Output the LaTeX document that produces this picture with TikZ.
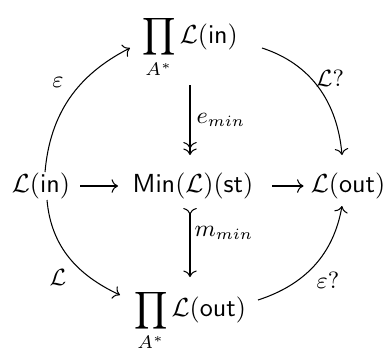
\documentclass[tikz,border=0pt]{standalone}
\usetikzlibrary{arrows.meta,calc}
\begin{document}
\begin{tikzpicture}[x=0.383pt,y=0.383pt,
  obj/.style={inner sep=0pt},
  arr/.style={-{Computer Modern Rightarrow}, line width=0.4pt},
  epi/.style={-{Computer Modern Rightarrow[]Computer Modern Rightarrow}, line width=0.4pt},
  mono/.style={{Computer Modern Rightarrow[reversed]}-{Computer Modern Rightarrow}, line width=0.4pt},
  lbl/.style={inner sep=0pt, font=\small}]
\useasboundingbox (0,0) rectangle (386,350);
\node[obj] (top) at (190,303) {$\displaystyle\prod_{A^*}\mathcal{L}(\mathsf{in})$};
\node[obj] (bot) at (190,30) {$\displaystyle\prod_{A^*}\mathcal{L}(\mathsf{out})$};
\node[obj] (lft) at (41,164) {$\mathcal{L}(\mathsf{in})$};
\node[obj] (mid) at (193,164) {$\mathsf{Min}(\mathcal{L})(\mathsf{st})$};
\node[obj] (rgt) at (348,164) {$\mathcal{L}(\mathsf{out})$};

\draw[arr, shorten <=3.8pt, shorten >=5.4pt] (lft) -- (mid);
\draw[arr, shorten <=7pt, shorten >=2.6pt] (mid) -- (rgt);

\draw[epi] ($(top.center)+(0,-38)$) -- ($(mid.center -| top.center)+(0,31)$);
\draw[mono] ($(mid.center -| top.center)+(0,-22)$) -- ($(bot.center)+(0,43)$);

\draw[arr] ($(lft.center)+(4,14)$) to[out=85,in=207] ($(top.center)+(-60,-1)$);
\draw[arr] ($(top.center)+(72,-1)$) to[out=-18,in=95] ($(rgt.center)+(-6,31)$);
\draw[arr] ($(lft.center)+(6,-14)$) to[out=-85,in=155] ($(bot.center)+(-70,25)$);
\draw[arr] ($(bot.center)+(68,20)$) to[out=18,in=-100] ($(rgt.center)+(-6,-20)$);

\node[lbl] (leps) at (58,268) {$\varepsilon$};
\node[lbl] (lLq) at (330,272) {$\mathcal{L}?$};
\node[lbl, anchor=west] (lemin) at (196,230) {$e_{min}$};
\node[lbl, anchor=west] (lmmin) at (194,117) {$m_{min}$};
\node[lbl] (lL) at (58,73) {$\mathcal{L}$};
\node[lbl] (lepsq) at (328,70) {$\varepsilon?$};
\end{tikzpicture}
\end{document}
